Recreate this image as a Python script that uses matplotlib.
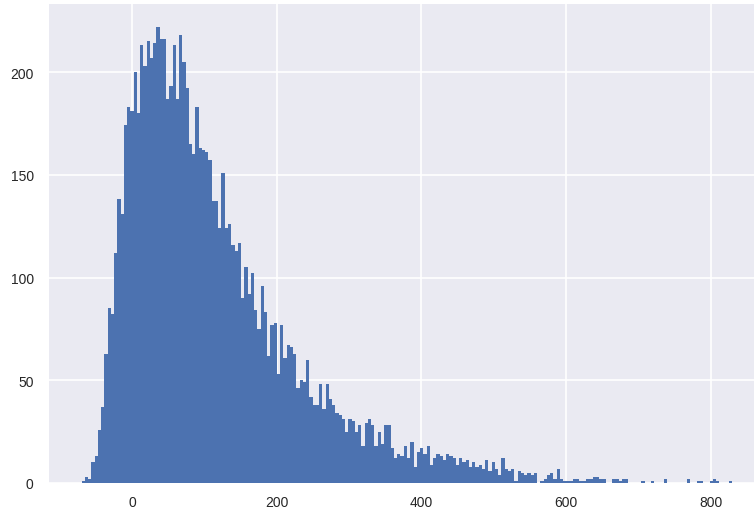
import numpy as np
import matplotlib
matplotlib.use("Agg")
import matplotlib.pyplot as plt

# ---- data (200 equal-width bins) ----
data_min = -70.0
data_max = 830.0
counts = [
    1, 3, 2, 10, 13, 26, 37, 63, 85, 82,
    112, 138, 131, 174, 183, 181, 200, 180, 213, 203,
    215, 207, 214, 222, 216, 216, 187, 193, 213, 187,
    218, 205, 192, 165, 160, 183, 163, 162, 161, 157,
    137, 137, 124, 151, 124, 126, 116, 113, 117, 90,
    105, 92, 102, 84, 75, 96, 83, 62, 77, 78,
    53, 77, 61, 67, 66, 63, 46, 50, 49, 60,
    42, 38, 38, 48, 36, 48, 41, 38, 34, 33,
    31, 25, 31, 30, 25, 28, 18, 29, 31, 28,
    18, 25, 19, 28, 28, 17, 12, 14, 13, 18,
    12, 20, 8, 15, 17, 14, 18, 9, 12, 14,
    13, 11, 14, 13, 12, 9, 12, 10, 11, 8,
    10, 8, 9, 7, 11, 6, 10, 7, 4, 12,
    7, 6, 7, 1, 6, 5, 4, 5, 4, 5,
    0, 1, 2, 4, 5, 2, 7, 2, 1, 1,
    1, 2, 2, 1, 1, 2, 2, 3, 3, 2,
    2, 0, 0, 2, 2, 1, 2, 2, 0, 0,
    0, 0, 1, 0, 0, 1, 0, 0, 0, 2,
    0, 0, 0, 0, 0, 0, 2, 0, 0, 1,
    1, 0, 0, 1, 2, 1, 0, 0, 0, 1,
]
xticks = [0, 200, 400, 600, 800]
yticks = [0, 50, 100, 150, 200]

plt.style.use("seaborn-v0_8-darkgrid")
plt.rcParams["font.family"] = ["Liberation Sans", "DejaVu Sans"]

fig = plt.figure(figsize=(7.54, 5.10), dpi=100)
ax = fig.add_axes([49 / 754, 26 / 510, (765 - 49) / 754, (484 - 5) / 510])

edges = np.linspace(data_min, data_max, len(counts) + 1)
centers = (edges[:-1] + edges[1:]) / 2
ax.hist(centers, bins=edges, weights=counts, histtype="stepfilled",
        color="#4C72B0", linewidth=0)

ax.set_xticks(xticks)
ax.set_yticks(yticks)
ax.tick_params(axis="both", labelsize=10, colors="#262626", length=0)
ax.tick_params(axis="y", pad=11)
ax.tick_params(axis="x", pad=9)
ax.grid(True, color="white", linewidth=1.2)
ax.set_axisbelow(True)
for s in ax.spines.values():
    s.set_visible(False)

fig.savefig("out.png", dpi=100)
